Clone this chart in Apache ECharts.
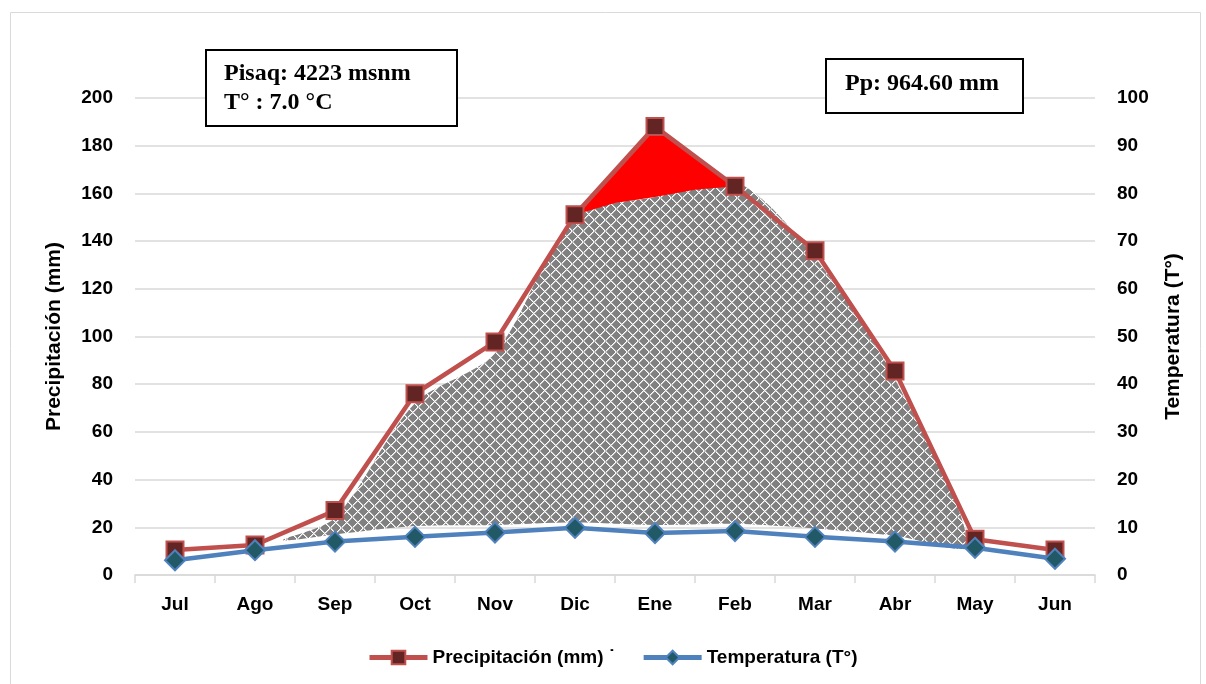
<!DOCTYPE html>
<html>
<head>
<meta charset="utf-8">
<script src="https://cdn.jsdelivr.net/npm/echarts@6/dist/echarts.min.js"></script>
<style>
  html, body { margin: 0; padding: 0; background: #fff; }
  #chart { width: 1206px; height: 684px; }
</style>
</head>
<body>
<div id="chart"></div>
<script>
const months = ['Jul', 'Ago', 'Sep', 'Oct', 'Nov', 'Dic', 'Ene', 'Feb', 'Mar', 'Abr', 'May', 'Jun'];
const precip = [10.5, 12.6, 27, 76, 97.7, 151, 188, 163, 136, 85.5, 15, 10.5];
const temp = [3.1, 5.2, 7, 8, 8.9, 9.9, 8.8, 9.2, 8, 7, 5.7, 3.4];

// humid area (hatched), x in month index
const humidX = [1.35, 2, 3, 4, 5, 6, 7, 8, 9, 9.9];
const humidTop = [14.7, 24, 72, 93, 150, 158.5, 165, 133, 82, 13];
const humidBottom = [14.7, 17, 20.5, 21, 22, 21, 21.5, 19.5, 16.5, 13];

// super-humid area (red)
const redTopX = [5, 6, 7];
const redTop = [151, 188, 163];
const redBottomX = [6.5, 6, 5.5];
const redBottom = [161.5, 158.5, 156];

const font = 'Liberation Sans, Arial, sans-serif';

// hatch pattern (outlined diamonds)
const N = 11;
const pat = document.createElement('canvas');
pat.width = N;
pat.height = N;
const pc = pat.getContext('2d');
pc.fillStyle = '#808080';
pc.fillRect(0, 0, N, N);
for (let i = 0; i < N; i++) {
  pc.fillStyle = '#ffffff';
  pc.fillRect(i, i, 1, 1);
  pc.fillRect(N - 1 - i, i, 1, 1);
  pc.fillStyle = '#c4c4c4';
  pc.fillRect((i + 1) % N, i, 1, 1);
  pc.fillRect((N - i) % N, i, 1, 1);
}

const chart = echarts.init(document.getElementById('chart'));

const option = {
  animation: false,
  textStyle: { fontFamily: font },
  grid: { left: 135, right: 111, top: 98, bottom: 109 },
  legend: {
    bottom: 12,
    left: 362,
    itemWidth: 58,
    itemHeight: 17,
    itemGap: 26,
    data: ['Precipitación (mm) ˙', 'Temperatura (T°)'],
    lineStyle: { width: 5 },
    textStyle: { fontSize: 19, fontWeight: 'bold', color: '#000', fontFamily: font }
  },
  xAxis: [
    {
      type: 'category',
      data: months,
      boundaryGap: true,
      axisLine: { lineStyle: { color: '#d9d9d9', width: 1.5 } },
      axisTick: { show: true, length: 8, lineStyle: { color: '#d9d9d9', width: 1.5 } },
      axisLabel: { color: '#000', fontSize: 19, fontWeight: 'bold', margin: 20, fontFamily: font }
    },
    {
      type: 'value',
      min: -0.5,
      max: 11.5,
      show: false
    }
  ],
  yAxis: [
    {
      type: 'value',
      min: 0,
      max: 200,
      interval: 20,
      name: 'Precipitación (mm)',
      nameLocation: 'middle',
      nameGap: 70,
      nameTextStyle: { fontSize: 21, fontWeight: 'bold', color: '#000', fontFamily: font },
      axisLine: { show: false },
      axisTick: { show: false },
      axisLabel: { color: '#000', fontSize: 19, fontWeight: 'bold', margin: 22, fontFamily: font },
      splitLine: { lineStyle: { color: '#d9d9d9', width: 1.5 } }
    },
    {
      type: 'value',
      min: 0,
      max: 100,
      interval: 10,
      name: 'Temperatura (T°)',
      nameLocation: 'middle',
      nameGap: 68,
      nameRotate: 90,
      nameTextStyle: { fontSize: 21, fontWeight: 'bold', color: '#000', fontFamily: font },
      axisLine: { show: false },
      axisTick: { show: false },
      axisLabel: { color: '#000', fontSize: 19, fontWeight: 'bold', margin: 22, fontFamily: font },
      splitLine: { show: false }
    }
  ],
  series: [
    {
      name: 'humid',
      type: 'custom',
      xAxisIndex: 1,
      yAxisIndex: 0,
      silent: true,
      z: 2,
      data: [0],
      renderItem: (params, api) => {
        const top = humidX.map((x, i) => api.coord([x, humidTop[i]]));
        const bottom = [];
        for (let i = humidX.length - 2; i >= 1; i--) {
          bottom.push(api.coord([humidX[i], humidBottom[i]]));
        }
        return {
          type: 'polygon',
          shape: { points: top.concat(bottom), smooth: 0.3 },
          style: { fill: { image: pat, repetition: 'repeat' }, stroke: null }
        };
      }
    },
    {
      name: 'red',
      type: 'custom',
      xAxisIndex: 1,
      yAxisIndex: 0,
      silent: true,
      z: 3,
      data: [0],
      renderItem: (params, api) => {
        const pts = redTopX.map((x, i) => api.coord([x, redTop[i]]));
        redBottomX.forEach((x, i) => pts.push(api.coord([x, redBottom[i]])));
        return {
          type: 'polygon',
          shape: { points: pts },
          style: { fill: '#ff0000', stroke: null }
        };
      }
    },
    {
      name: 'Precipitación (mm) ˙',
      type: 'line',
      xAxisIndex: 0,
      yAxisIndex: 0,
      data: precip,
      symbol: 'rect',
      symbolSize: 17,
      showAllSymbol: true,
      lineStyle: { color: '#c0504d', width: 4.5 },
      itemStyle: { color: '#632523', borderColor: '#c0504d', borderWidth: 2 },
      z: 5
    },
    {
      name: 'Temperatura (T°)',
      type: 'line',
      xAxisIndex: 0,
      yAxisIndex: 1,
      data: temp,
      symbol: 'diamond',
      symbolSize: 20,
      showAllSymbol: true,
      lineStyle: { color: '#4f81bd', width: 4.5 },
      itemStyle: { color: '#215967', borderColor: '#4f81bd', borderWidth: 2 },
      z: 6
    }
  ],
  graphic: [
    {
      type: 'rect',
      left: 8, top: 10,
      shape: { width: 1190, height: 672 },
      style: { fill: 'none', stroke: '#d9d9d9', lineWidth: 1 },
      z: -1, silent: true
    },
    {
      type: 'rect',
      left: 205, top: 49,
      shape: { width: 251, height: 76 },
      style: { fill: '#fff', stroke: '#000', lineWidth: 2 },
      z: 10
    },
    {
      type: 'text',
      left: 224, top: 59,
      style: {
        text: 'Pisaq: 4223 msnm\nT° : 7.0 °C',
        font: 'bold 24px "Liberation Serif", "Times New Roman", serif',
        lineHeight: 29,
        fill: '#000'
      },
      z: 11
    },
    {
      type: 'rect',
      left: 825, top: 58,
      shape: { width: 197, height: 54 },
      style: { fill: '#fff', stroke: '#000', lineWidth: 2 },
      z: 10
    },
    {
      type: 'text',
      left: 845, top: 69,
      style: {
        text: 'Pp: 964.60 mm',
        font: 'bold 24px "Liberation Serif", "Times New Roman", serif',
        lineHeight: 29,
        fill: '#000'
      },
      z: 11
    }
  ]
};

chart.setOption(option);
</script>
</body>
</html>
